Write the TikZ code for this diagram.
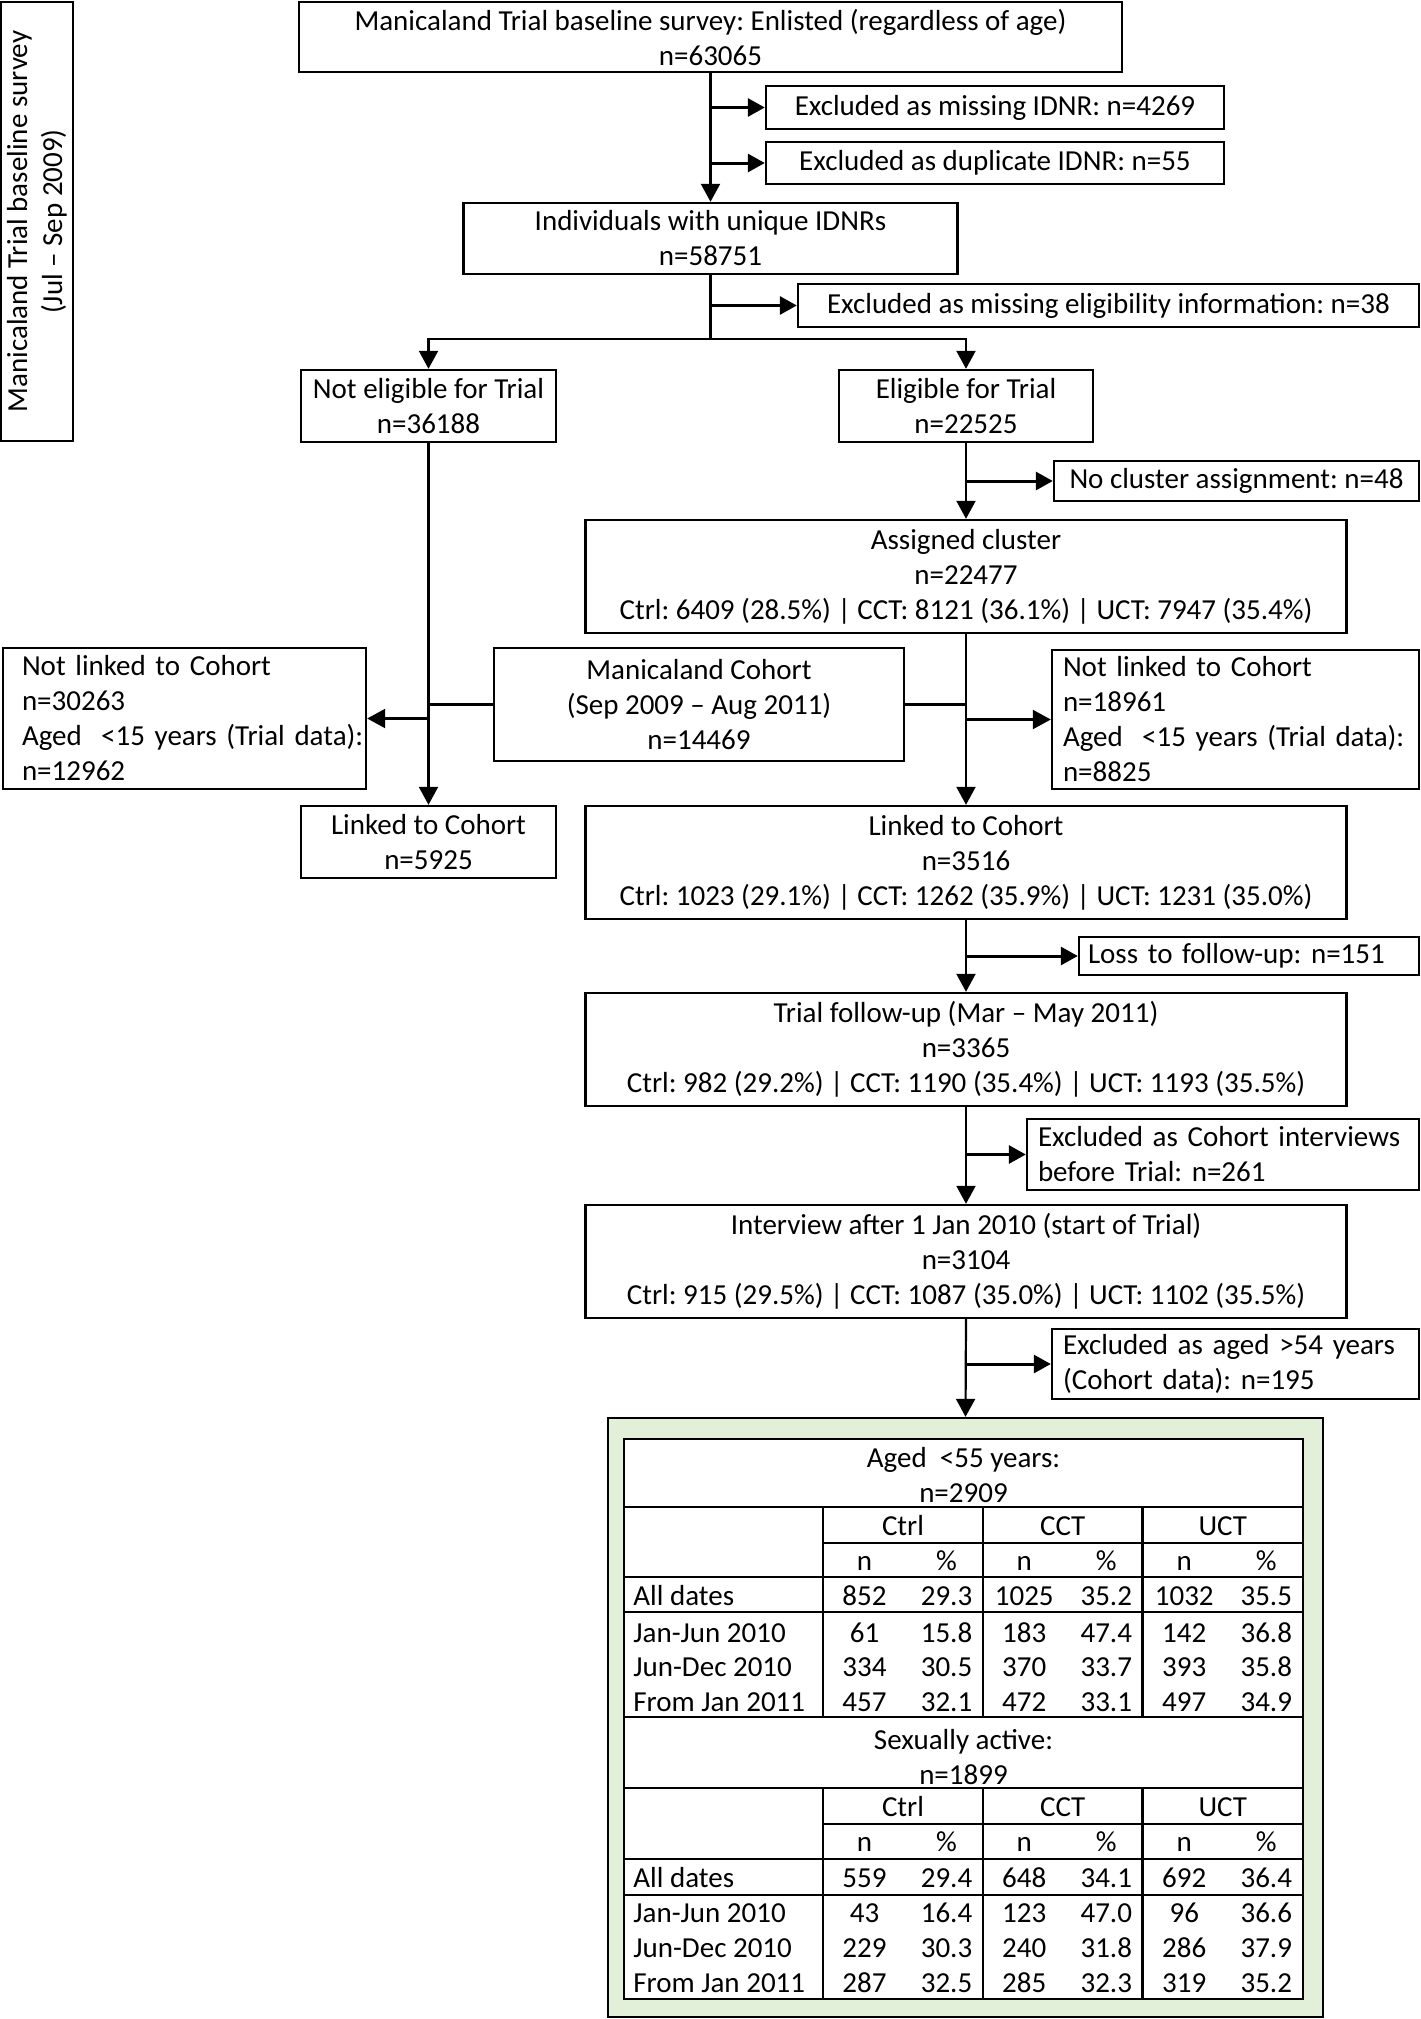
\documentclass[tikz,border=0pt]{standalone}
\usepackage{fontspec}
\setmainfont{Carlito}
\usetikzlibrary{arrows.meta}
\definecolor{paleGreen}{HTML}{E2EFD9}
\begin{document}
\begin{tikzpicture}[x=0.5pt,y=-0.5pt,
  font=\fontsize{14.5pt}{17.5pt}\selectfont\frenchspacing,
  box/.style={draw, line width=1.2pt, inner sep=0pt, align=center, fill=white},
  lbox/.style={draw, line width=1.2pt, inner ysep=0pt, align=left, fill=white},
  conn/.style={line width=1.1pt},
  arr/.style={line width=1.1pt, -{Triangle[length=9pt,width=9.5pt]}},
  sidearr/.style={line width=1.5pt, -{Triangle[length=8.5pt,width=9pt]}},
  tline/.style={line width=1.2pt},
  tcell/.style={inner sep=0pt, text height=9.3pt, text depth=0pt},
]
\useasboundingbox (0,0) rectangle (1420,2019);

% side label
\node[box, rotate=90, minimum width=219.5pt, minimum height=36pt] (side) at (37,221.5)
  {Manicaland Trial baseline survey\\(Jul – Sep 2009)};

% flowchart boxes
\node[box, minimum width=411.5pt, minimum height=35pt] (top) at (710.5,37)
  {Manicaland Trial baseline survey: Enlisted (regardless of age)\\n=63065};
\node[box, minimum width=229pt, minimum height=21.5pt] (exMiss) at (995,107.5)
  {Excluded as missing IDNR: n=4269};
\node[box, minimum width=229pt, minimum height=21pt] (exDup) at (995,163)
  {Excluded as duplicate IDNR: n=55};
\node[box, minimum width=247pt, minimum height=35.5pt] (indiv) at (710.5,238.5)
  {Individuals with unique IDNRs\\n=58751};
\node[box, minimum width=310.5pt, minimum height=21.5pt] (exElig) at (1108.5,305.5)
  {Excluded as missing eligibility information: n=38};
\node[box, minimum width=127.5pt, minimum height=36pt] (notElig) at (428.5,406)
  {Not eligible for Trial\\n=36188};
\node[box, minimum width=127pt, minimum height=36pt] (elig) at (966,406)
  {Eligible for Trial\\n=22525};
\node[box, minimum width=182.5pt, minimum height=20pt] (noClust) at (1236.5,481)
  {No cluster assignment: n=48};
\node[box, minimum width=380.5pt, minimum height=56.5pt] (assigned) at (966,576.5)
  {Assigned cluster\\n=22477\\Ctrl: 6409 (28.5\%) | CCT: 8121 (36.1\%) | UCT: 7947 (35.4\%)};
\node[lbox, inner xsep=9.5pt, text width=162.5pt, minimum height=70.5pt] (notLinkL) at (184.5,718.5)
  {\mbox{Not linked to Cohort}\\\mbox{n=30263}\\\mbox{Aged\ \ <15 years (Trial data):}\\\mbox{n=12962}};
\node[box, minimum width=205pt, minimum height=56.5pt] (cohort) at (699,704.5)
  {Manicaland Cohort\\(Sep 2009 – Aug 2011)\\n=14469};
\node[lbox, inner xsep=5.5pt, text width=172.5pt, minimum height=69.5pt] (notLinkR) at (1235.5,719.5)
  {\mbox{Not linked to Cohort}\\\mbox{n=18961}\\\mbox{Aged\ \ <15 years (Trial data):}\\\mbox{n=8825}};
\node[box, minimum width=127.5pt, minimum height=36pt] (linkedL) at (428.5,842)
  {Linked to Cohort\\n=5925};
\node[box, minimum width=380.5pt, minimum height=56.5pt] (linkedR) at (966,862.5)
  {Linked to Cohort\\n=3516\\Ctrl: 1023 (29.1\%) | CCT: 1262 (35.9\%) | UCT: 1231 (35.0\%)};
\node[lbox, inner xsep=4.5pt, text width=161pt, minimum height=19pt] (loss) at (1249,956)
  {Loss to follow-up: n=151};
\node[box, minimum width=380.5pt, minimum height=56.5pt] (followup) at (966,1049.5)
  {Trial follow-up (Mar – May 2011)\\n=3365\\Ctrl: 982 (29.2\%) | CCT: 1190 (35.4\%) | UCT: 1193 (35.5\%)};
\node[lbox, inner xsep=5.5pt, text width=185pt, minimum height=35.5pt] (exCoh) at (1223,1154.5)
  {\mbox{Excluded as Cohort interviews}\\\mbox{before Trial: n=261}};
\node[box, minimum width=380.5pt, minimum height=56.5pt] (interview) at (966,1261.5)
  {Interview after 1 Jan 2010 (start of Trial)\\n=3104\\Ctrl: 915 (29.5\%) | CCT: 1087 (35.0\%) | UCT: 1102 (35.5\%)};
\node[lbox, inner xsep=5.5pt, text width=172.5pt, minimum height=35pt] (exAged) at (1235.5,1364)
  {\mbox{Excluded as aged >54 years}\\\mbox{(Cohort data): n=195}};

% results panel
\node[draw, line width=1.2pt, fill=paleGreen, inner sep=0pt, minimum width=357.5pt, minimum height=299.5pt] (green) at (965.5,1717.5) {};
\node[draw, line width=1.2pt, fill=white, inner sep=0pt, minimum width=339.5pt, minimum height=280pt] (tbl) at (963.5,1719) {};

% connectors
\draw[arr] (top.south) -- (indiv.north);
\draw[sidearr] (top.south |- exMiss.west) -- (exMiss.west);
\draw[sidearr] (top.south |- exDup.west) -- (exDup.west);
\coordinate (split) at (710.5,339);
\draw[conn] (indiv.south) -- (split);
\draw[sidearr] (indiv.south |- exElig.west) -- (exElig.west);
\draw[arr] (split) -| (notElig.north);
\draw[arr] (split) -| (elig.north);
\draw[arr] (notElig.south) -- (linkedL.north);
\draw[arr] (elig.south) -- (assigned.north);
\draw[sidearr] (elig.south |- noClust.west) -- (noClust.west);
\draw[arr] (assigned.south) -- (linkedR.north);
\draw[conn] (cohort.west) -- (cohort.west -| notElig.south);
\draw[arr] (notElig.south |- notLinkL.east) -- (notLinkL.east);
\draw[conn] (cohort.east) -- (cohort.east -| elig.south);
\draw[arr] (elig.south |- notLinkR.west) -- (notLinkR.west);
\draw[arr] (linkedR.south) -- (followup.north);
\draw[sidearr] (linkedR.south |- loss.west) -- (loss.west);
\draw[arr] (followup.south) -- (interview.north);
\draw[sidearr] (followup.south |- exCoh.west) -- (exCoh.west);
\draw[arr] (interview.south) -- (green.north);
\draw[sidearr] (interview.south |- exAged.west) -- (exAged.west);

% table grid
\foreach \ya/\yb/\yc/\yd/\ye/\yf in {1439/1507/1543/1577/1612/1717, 1717/1788/1824/1859/1895/1999} {
  \draw[tline] (624,\yb) -- (1303,\yb);
  \draw[tline] (823,\yc) -- (1303,\yc);
  \draw[tline] (624,\yd) -- (1303,\yd);
  \draw[tline] (624,\ye) -- (1303,\ye);
  \draw[tline] (624,\yf) -- (1303,\yf);
  \foreach \xx in {823,983,1142.5} \draw[tline] (\xx,\yb) -- (\xx,\yf);
}

% table headers
\node[align=center, inner sep=0pt] (t1title) at (963.5,1475) {Aged\ \ <55 years:\\n=2909};
\node[align=center, inner sep=0pt] (t2title) at (963.5,1757) {Sexually active:\\n=1899};
\foreach \ty/\ny/\tag in {1526/1561/a, 1807/1842/b} {
  \foreach \grp/\xm [count=\k] in {Ctrl/903, CCT/1062.75, UCT/1222.75} {
    \node[tcell] (\tag h\k) at (\xm,\ty) {\grp};
    \node[tcell] (\tag n\k) at (\xm-38.5,\ny) {n};
    \node[tcell] (\tag p\k) at (\xm+43.5,\ny) {\%};
  }
}

% table 1 rows
\foreach \lab/\a/\b/\c/\d/\e/\f/\y [count=\i] in {
  All dates/852/29.3/1025/35.2/1032/35.5/1596,
  Jan-Jun 2010/61/15.8/183/47.4/142/36.8/1633,
  Jun-Dec 2010/334/30.5/370/33.7/393/35.8/1667,
  From Jan 2011/457/32.1/472/33.1/497/34.9/1702} {
  \node[tcell, anchor=west] (a\i-l) at (633,\y) {\lab};
  \node[tcell] (a\i-1) at (864.5,\y) {\a};
  \node[tcell] (a\i-2) at (946.5,\y) {\b};
  \node[tcell] (a\i-3) at (1024.25,\y) {\c};
  \node[tcell] (a\i-4) at (1106.25,\y) {\d};
  \node[tcell] (a\i-5) at (1184.25,\y) {\e};
  \node[tcell] (a\i-6) at (1266.25,\y) {\f};
}

% table 2 rows
\foreach \lab/\a/\b/\c/\d/\e/\f/\y [count=\i] in {
  All dates/559/29.4/648/34.1/692/36.4/1878,
  Jan-Jun 2010/43/16.4/123/47.0/96/36.6/1913,
  Jun-Dec 2010/229/30.3/240/31.8/286/37.9/1948,
  From Jan 2011/287/32.5/285/32.3/319/35.2/1983} {
  \node[tcell, anchor=west] (b\i-l) at (633,\y) {\lab};
  \node[tcell] (b\i-1) at (864.5,\y) {\a};
  \node[tcell] (b\i-2) at (946.5,\y) {\b};
  \node[tcell] (b\i-3) at (1024.25,\y) {\c};
  \node[tcell] (b\i-4) at (1106.25,\y) {\d};
  \node[tcell] (b\i-5) at (1184.25,\y) {\e};
  \node[tcell] (b\i-6) at (1266.25,\y) {\f};
}
\end{tikzpicture}
\end{document}
